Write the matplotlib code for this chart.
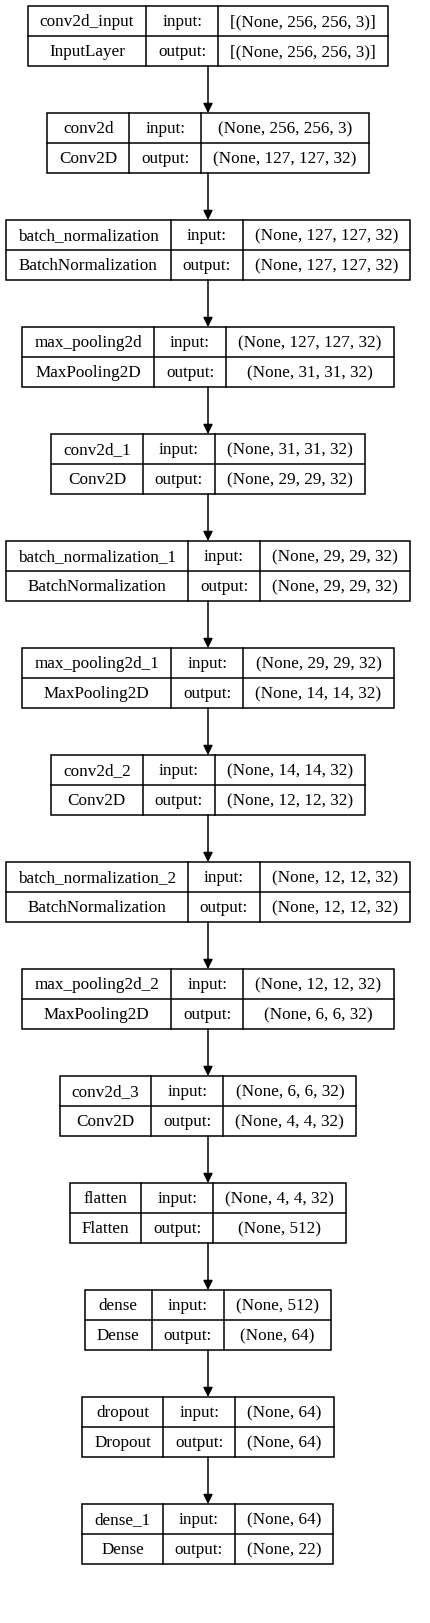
import matplotlib
matplotlib.use("Agg")
import matplotlib.pyplot as plt

names = ["conv2d_input", "conv2d", "batch_normalization", "max_pooling2d", "conv2d_1",
         "batch_normalization_1", "max_pooling2d_1", "conv2d_2", "batch_normalization_2",
         "max_pooling2d_2", "conv2d_3", "flatten", "dense", "dropout", "dense_1"]
classes = ["InputLayer", "Conv2D", "BatchNormalization", "MaxPooling2D", "Conv2D",
           "BatchNormalization", "MaxPooling2D", "Conv2D", "BatchNormalization",
           "MaxPooling2D", "Conv2D", "Flatten", "Dense", "Dropout", "Dense"]
inputs = ["[(None, 256, 256, 3)]", "(None, 256, 256, 3)", "(None, 127, 127, 32)",
          "(None, 127, 127, 32)", "(None, 31, 31, 32)", "(None, 29, 29, 32)",
          "(None, 29, 29, 32)", "(None, 14, 14, 32)", "(None, 12, 12, 32)",
          "(None, 12, 12, 32)", "(None, 6, 6, 32)", "(None, 4, 4, 32)",
          "(None, 512)", "(None, 64)", "(None, 64)"]
outputs = ["[(None, 256, 256, 3)]", "(None, 127, 127, 32)", "(None, 127, 127, 32)",
           "(None, 31, 31, 32)", "(None, 29, 29, 32)", "(None, 29, 29, 32)",
           "(None, 14, 14, 32)", "(None, 12, 12, 32)", "(None, 12, 12, 32)",
           "(None, 6, 6, 32)", "(None, 4, 4, 32)", "(None, 512)",
           "(None, 64)", "(None, 64)", "(None, 22)"]

W, H = 431, 1623
fig = plt.figure(figsize=(W / 100, H / 100), dpi=100)
ax = fig.add_axes([0, 0, 1, 1])
ax.set_xlim(0, W)
ax.set_ylim(H, 0)
ax.axis("off")
fs = 12.3
font = dict(family="Liberation Serif", fontsize=fs)
fig.canvas.draw()
r = fig.canvas.get_renderer()

def tw(s):
    t = ax.text(0, 0, s, **font)
    w = t.get_window_extent(r).width
    t.remove()
    return w

pad = 12
cx = 208
top0, bh, step = 6, 60, 107
for i in range(len(names)):
    w1 = max(tw(names[i]), tw(classes[i])) + 2 * pad
    w2 = tw("output:") + 2 * pad
    w3 = max(tw(inputs[i]), tw(outputs[i])) + 2 * pad
    tot = w1 + w2 + w3
    x0 = cx - tot / 2
    y0 = top0 + i * step
    ax.add_patch(plt.Rectangle((x0, y0), tot, bh, fill=False, lw=1.1, ec="black"))
    ax.plot([x0, x0 + tot], [y0 + bh / 2] * 2, color="black", lw=1.1)
    for xd in (x0 + w1, x0 + w1 + w2):
        ax.plot([xd, xd], [y0, y0 + bh], color="black", lw=1.1)
    cols = [(x0 + w1 / 2, names[i], classes[i]),
            (x0 + w1 + w2 / 2, "input:", "output:"),
            (x0 + w1 + w2 + w3 / 2, inputs[i], outputs[i])]
    for xc, a, b in cols:
        ax.text(xc, y0 + bh / 4 + 1, a, ha="center", va="center", **font)
        ax.text(xc, y0 + 3 * bh / 4 + 1, b, ha="center", va="center", **font)
    if i < len(names) - 1:
        ax.annotate("", xy=(cx, y0 + step), xytext=(cx, y0 + bh),
                    arrowprops=dict(arrowstyle="-|>", color="black", lw=1.1,
                                    mutation_scale=14, shrinkA=0, shrinkB=0))

fig.savefig("out.png", dpi=100)
